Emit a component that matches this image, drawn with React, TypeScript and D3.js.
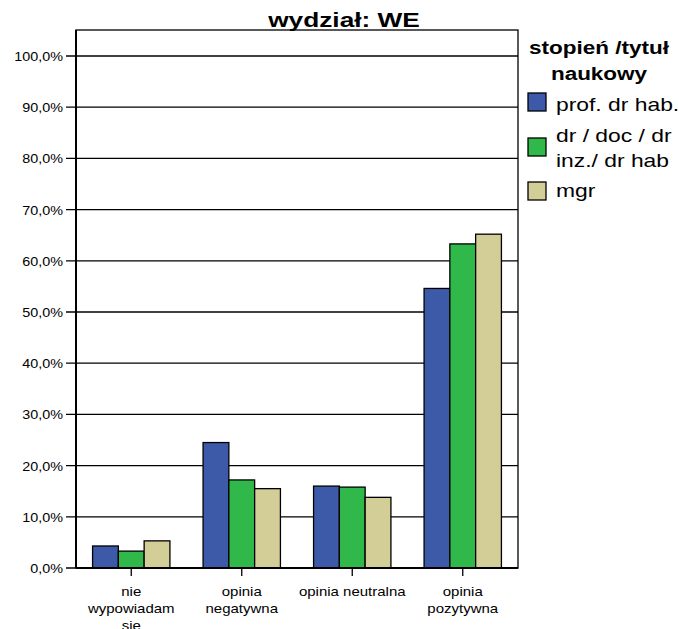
import React from "react";
import * as d3 from "d3";

const categories = [["nie", "wypowiadam", "sie"], ["opinia", "negatywna"], ["opinia neutralna"], ["opinia", "pozytywna"]];
const seriesNames = ["prof. dr hab.", "dr / doc / dr inz./ dr hab", "mgr"];
const legendLines = [["prof. dr hab."], ["dr / doc / dr", "inz./ dr hab"], ["mgr"]];
const colors = ["#3d5aa9", "#30b84a", "#d3cd98"];
const profValues = [4.3, 24.5, 16.0, 54.6];
const drValues = [3.3, 17.2, 15.8, 63.3];
const mgrValues = [5.3, 15.5, 13.8, 65.2];
const yTicks = [0, 10, 20, 30, 40, 50, 60, 70, 80, 90, 100];

function T(props: { x: number; y: number; sx: number; size: number; anchor?: string; bold?: boolean; children: React.ReactNode }) {
  const { x, y, sx, size, anchor = "start", bold = false, children } = props;
  return (
    <g transform={`translate(${x},${y}) scale(${sx},1)`}>
      <text x={0} y={0} textAnchor={anchor as any} fontSize={size} fontWeight={bold ? "bold" : "normal"}>{children}</text>
    </g>
  );
}

export default function App() {
  const W = 679, H = 629;
  const left = 76, right = 518, top = 30, bottom = 568;
  const series = [profValues, drValues, mgrValues];
  const y = d3.scaleLinear().domain([0, 100]).range([bottom, 56]);
  const x0 = d3.scaleBand<number>().domain(d3.range(categories.length)).range([left, right]).paddingInner(0.3).paddingOuter(0.15);
  const x1 = d3.scaleBand<number>().domain(d3.range(series.length)).range([0, x0.bandwidth()]);
  const font = "'Liberation Sans', Arial, sans-serif";
  const fmt = (v: number) => v.toFixed(1).replace(".", ",") + "%";
  return (
    <svg width={W} height={H} style={{ position: "absolute", left: 0, top: 0, background: "#fff" }} fontFamily={font}>
      <rect x={0} y={0} width={W} height={H} fill="#fff" />
      <T x={344} y={27} sx={1.25} size={21} anchor="middle" bold>wydział: WE</T>
      {yTicks.map((t) => (
        <g key={t}>
          <line x1={66} x2={right} y1={y(t)} y2={y(t)} stroke="#000" strokeWidth={1.3} />
          <T x={63} y={y(t) + 5} sx={1.15} size={12.5} anchor="end">{fmt(t)}</T>
        </g>
      ))}
      {categories.map((c, i) => (
        <g key={i}>
          {series.map((s, j) => (
            <rect key={j} x={x0(i)! + x1(j)!} y={y(s[i])} width={x1.bandwidth()} height={bottom - y(s[i])}
              fill={colors[j]} stroke="#000" strokeWidth={1.3} />
          ))}
          <line x1={x0(i)! + x0.bandwidth() / 2} x2={x0(i)! + x0.bandwidth() / 2} y1={bottom} y2={bottom + 8} stroke="#000" strokeWidth={1.3} />
          {c.map((line, k) => (
            <T key={k} x={x0(i)! + x0.bandwidth() / 2} y={596 + k * 17} sx={1.2} size={12.5} anchor="middle">{line}</T>
          ))}
        </g>
      ))}
      <rect x={left} y={top} width={right - left} height={bottom - top} fill="none" stroke="#000" strokeWidth={1.3} />
      <line x1={left} x2={right} y1={bottom} y2={bottom} stroke="#000" strokeWidth={2} />
      <line x1={left} x2={left} y1={top} y2={bottom} stroke="#000" strokeWidth={2} />
      <T x={599} y={54} sx={1.25} size={18} anchor="middle" bold>stopień /tytuł</T>
      <T x={599} y={80} sx={1.25} size={18} anchor="middle" bold>naukowy</T>
      {legendLines.map((lines, j) => {
        const sy = [93, 138, 182][j];
        const ty = [111, 142, 197][j];
        return (
          <g key={j}>
            <rect x={528} y={sy} width={18} height={18} fill={colors[j]} stroke="#000" strokeWidth={1.3} />
            {lines.map((l, k) => (
              <T key={k} x={556} y={ty + k * 25} sx={1.27} size={18}>{l}</T>
            ))}
          </g>
        );
      })}
    </svg>
  );
}
